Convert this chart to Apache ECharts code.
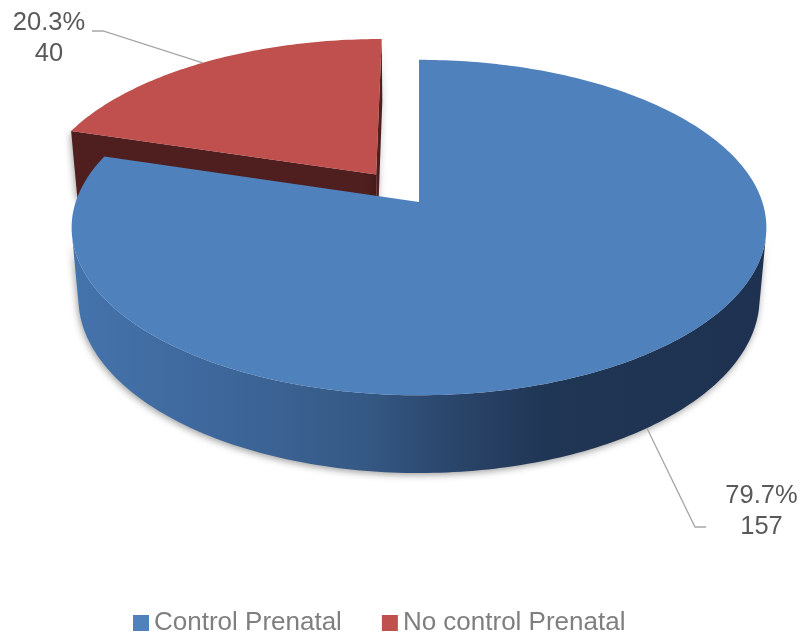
<!DOCTYPE html>
<html><head><meta charset="utf-8">
<script src="https://cdn.jsdelivr.net/npm/echarts@6/dist/echarts.min.js"></script>
<style>html,body{margin:0;padding:0;background:#fff}#chart{width:806px;height:635px}</style>
</head><body><div id="chart"></div>
<script>
// ---- data ----
const categories = ['Control Prenatal', 'No control Prenatal'];
const values = [157, 40];

// ---- styles ----
const topColors = ['#4F81BD', '#C0504D'];
const faceColors = ['#2A4568', '#4F1E1E'];
const wallStops = [
  [[0, '#4473AB'], [0.2, '#3E689C'], [0.42, '#355985'], [0.52, '#2D4970'], [0.68, '#203655'], [1, '#1E3150']],
  [[0, '#6B2A28'], [1, '#4F1E1E']]
];
const explode = [0, 0.215];
const labelLayout = [
  { x: 761.5, y: 511.5, path: [[695, 527], [706, 527]] },
  { x: 49, y: 38.5, path: [[103, 31], [92, 31]] }
];

// ---- 3D view (perspective) ----
const VIEW = { cx: 419, cy: 202, f: 1981, D: 5.77, tilt: 28.5 * Math.PI / 180, h: 0.236 };
const ST = Math.sin(VIEW.tilt), CT = Math.cos(VIEW.tilt);
function project(X, Y, Z) {
  const up = Y * CT - Z * ST;
  const depth = VIEW.D - (Y * ST + Z * CT);
  return [VIEW.cx + VIEW.f * X / depth, VIEW.cy - VIEW.f * up / depth];
}
const CAM = [0, VIEW.D * ST, VIEW.D * CT];
function facing(n, p) {
  return n[0] * (CAM[0] - p[0]) + n[1] * (CAM[1] - p[1]) + n[2] * (CAM[2] - p[2]) > 1e-6;
}

const total = values.reduce((a, b) => a + b, 0);

function makeRender(i) {
  return function (params, api) {
    const v = api.value(0);
    let before = 0;
    for (let k = 0; k < i; k++) before += values[k];
    const a0 = before / total * Math.PI * 2;
    const a1 = (before + v) / total * Math.PI * 2;
    const mid = (a0 + a1) / 2;
    const ox = explode[i] * Math.sin(mid), oz = -explode[i] * Math.cos(mid);
    const h = VIEW.h;
    const rim = (phi, Y) => project(ox + Math.sin(phi), Y, oz - Math.cos(phi));
    const ctr = (Y) => project(ox, Y, oz);
    const n = Math.max(8, Math.ceil((a1 - a0) / (Math.PI * 2) * 360));
    const phis = [];
    for (let k = 0; k <= n; k++) phis.push(a0 + (a1 - a0) * k / n);

    const children = [];
    const shadow = { shadowBlur: 7, shadowColor: 'rgba(0,0,0,0.38)', shadowOffsetX: -1, shadowOffsetY: 2 };

    // outer wall, visible runs
    const vis = phis.map(p => facing([Math.sin(p), 0, -Math.cos(p)], [ox + Math.sin(p), 0, oz - Math.cos(p)]));
    let run = [];
    const flush = () => {
      if (run.length > 1) {
        const pts = run.map(p => rim(p, 0)).concat(run.slice().reverse().map(p => rim(p, -h)));
        children.push({
          type: 'polygon', silent: true, shape: { points: pts },
          style: Object.assign({
            fill: { type: 'linear', x: 0, y: 0, x2: 1, y2: 0,
              colorStops: wallStops[i].map(s => ({ offset: s[0], color: s[1] })) }
          }, shadow)
        });
      }
      run = [];
    };
    phis.forEach((p, k) => { if (vis[k]) run.push(p); else flush(); });
    flush();

    // radial faces
    const pc = [ox, 0, oz];
    const faces = [
      { phi: a0, n: [-Math.cos(a0), 0, -Math.sin(a0)] },
      { phi: a1, n: [Math.cos(a1), 0, Math.sin(a1)] }
    ];
    faces.forEach(fc => {
      if (!facing(fc.n, pc)) return;
      children.push({
        type: 'polygon', silent: true,
        shape: { points: [ctr(0), rim(fc.phi, 0), rim(fc.phi, -h), ctr(-h)] },
        style: Object.assign({ fill: faceColors[i] }, shadow)
      });
    });

    // top face
    children.push({
      type: 'polygon', silent: true,
      shape: { points: [ctr(0)].concat(phis.map(p => rim(p, 0))) },
      style: { fill: topColors[i] }
    });

    // label + leader line
    const front = Math.cos(mid) < 0;
    const start = rim(mid, front ? -h : 0);
    const L = labelLayout[i];
    children.push({
      type: 'polyline', silent: true,
      shape: { points: [start].concat(L.path) },
      style: { stroke: '#A6A6A6', lineWidth: 1.3, fill: null }
    });
    children.push({
      type: 'text', silent: true,
      style: {
        text: (v / total * 100).toFixed(1) + '%\n' + v,
        x: L.x, y: L.y, align: 'center', verticalAlign: 'middle',
        fontSize: 25.5, fontFamily: 'Liberation Sans, Arial, sans-serif',
        fill: '#595959', lineHeight: 31
      }
    });
    return { type: 'group', children };
  };
}

const chart = echarts.init(document.getElementById('chart'), null, { renderer: 'canvas' });
chart.setOption({
  animation: false,
  backgroundColor: '#ffffff',
  legend: {
    data: categories,
    left: 128, top: 603,
    icon: 'rect', itemWidth: 16, itemHeight: 16, itemGap: 40,
    textStyle: { fontFamily: 'Liberation Sans, Arial, sans-serif', fontSize: 26, color: '#7F7F7F', lineHeight: 30 }
  },
  series: categories.map((name, i) => ({
    type: 'custom', name, coordinateSystem: 'none',
    z: i === 0 ? 3 : 2,
    itemStyle: { color: topColors[i] },
    data: [values[i]],
    renderItem: makeRender(i)
  }))
});
</script>
</body></html>
